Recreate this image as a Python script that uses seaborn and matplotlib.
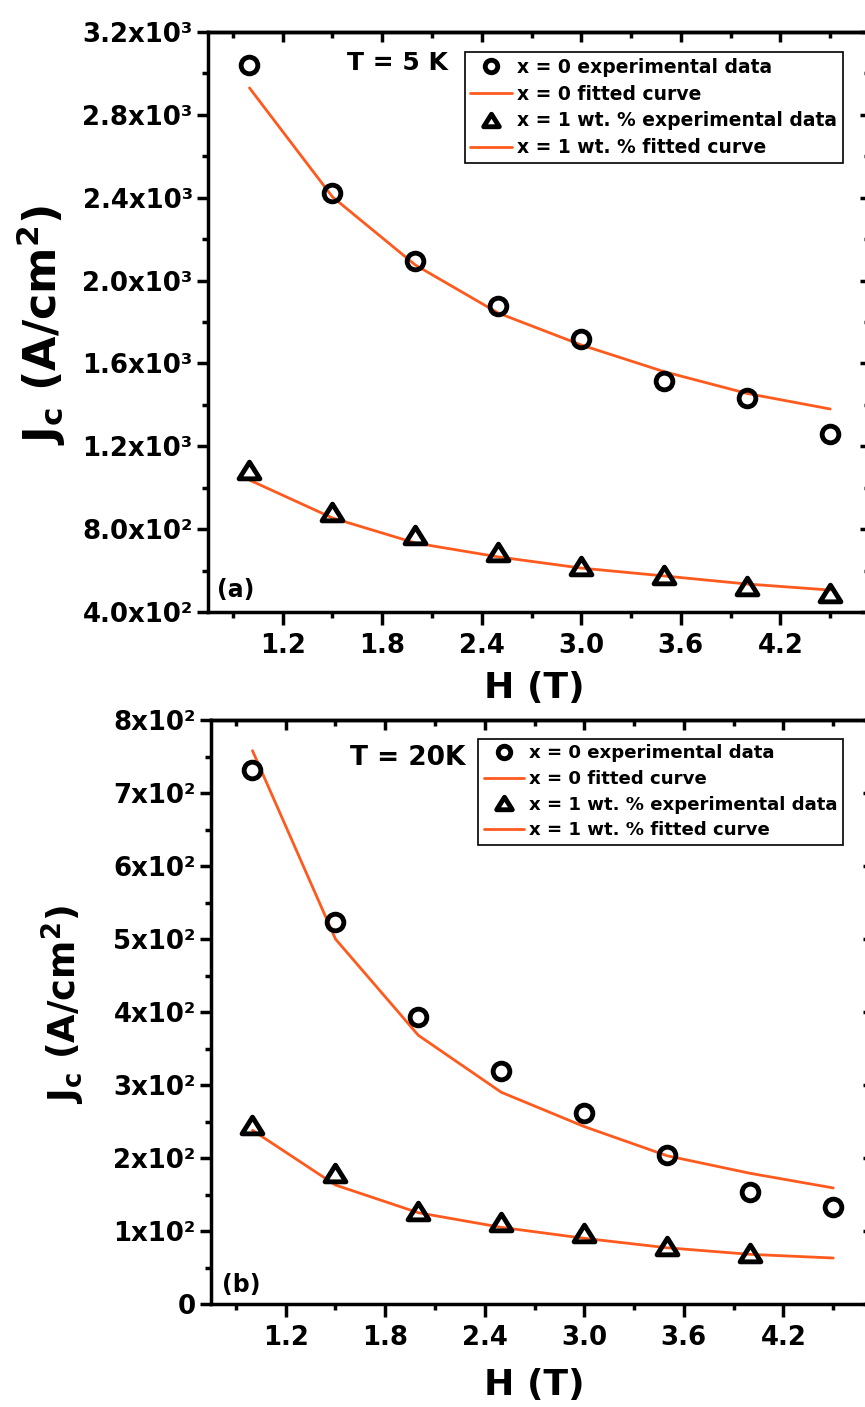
import matplotlib
matplotlib.use("Agg")
import matplotlib.pyplot as plt
import seaborn as sns
import pandas as pd
from matplotlib.path import Path
from matplotlib.ticker import MultipleLocator, FixedLocator

# ---------------- data ----------------
H = [1.0, 1.5, 2.0, 2.5, 3.0, 3.5, 4.0, 4.5]
H_b_x1_exp = [1.0, 1.5, 2.0, 2.5, 3.0, 3.5, 4.0]

a_x0_exp = [3040, 2423, 2094, 1877, 1718, 1515, 1433, 1259]
a_x0_fit = [2930, 2404, 2075, 1843, 1689, 1560, 1455, 1380]
a_x1_exp = [1086, 883, 772, 690, 622, 580, 525, 490]
a_x1_fit = [1037, 854, 733, 666, 612, 574, 535, 506]

b_x0_exp = [731, 523, 393, 319, 262, 204, 153, 133]
b_x0_fit = [758, 500, 368, 290, 243, 203, 179, 159]
b_x1_exp = [245, 179, 127, 112, 97, 79, 70]
b_x1_fit = [238, 163, 125, 105, 90, 77, 68, 63]

legend_labels = ["x = 0 experimental data", "x = 0 fitted curve",
                 "x = 1 wt. % experimental data", "x = 1 wt. % fitted curve"]

a_yticks = [400, 800, 1200, 1600, 2000, 2400, 2800, 3200]
a_yticklabels = ["4.0x10²", "8.0x10²", "1.2x10³", "1.6x10³",
                 "2.0x10³", "2.4x10³", "2.8x10³", "3.2x10³"]
b_yticks = [0, 100, 200, 300, 400, 500, 600, 700, 800]
b_yticklabels = ["0", "1x10²", "2x10²", "3x10²", "4x10²",
                 "5x10²", "6x10²", "7x10²", "8x10²"]
xticks = [1.2, 1.8, 2.4, 3.0, 3.6, 4.2]
xticklabels = ["1.2", "1.8", "2.4", "3.0", "3.6", "4.2"]

# ---------------- style ----------------
sns.set_style("ticks")
plt.rcParams["font.family"] = ["DejaVu Sans"]
plt.rcParams["font.weight"] = "bold"
plt.rcParams["mathtext.fontset"] = "dejavusans"
plt.rcParams["mathtext.default"] = "bf"
for k in ["text.color", "axes.labelcolor", "xtick.color", "ytick.color",
          "axes.edgecolor"]:
    plt.rcParams[k] = "black"

ORANGE = "#FF5A1E"
SPINE_LW = 2.5
TRI = Path([(0, 0.8), (-1, -0.8), (1, -0.8), (0, 0.8)],
           [Path.MOVETO, Path.LINETO, Path.LINETO, Path.CLOSEPOLY])

W, HH = 865, 1407
fig = plt.figure(figsize=(W / 100, HH / 100), dpi=100)
fig.patch.set_facecolor("white")


def px_axes(l, t, r, b):
    return fig.add_axes([l / W, 1 - b / HH, (r - l) / W, (b - t) / HH])


def draw_panel(ax, x0e_x, x0e, x0f, x1e_x, x1e, x1f):
    df0e = pd.DataFrame({"H": x0e_x, "J": x0e})
    df0f = pd.DataFrame({"H": H, "J": x0f})
    df1e = pd.DataFrame({"H": x1e_x, "J": x1e})
    df1f = pd.DataFrame({"H": H, "J": x1f})
    common = dict(x="H", y="J", ax=ax, estimator=None, sort=False, errorbar=None)
    sns.lineplot(data=df0e, **common, color="black", linestyle="none", marker="o",
                 markersize=12, markerfacecolor="none", markeredgecolor="black",
                 markeredgewidth=3.5, label=legend_labels[0], zorder=4)
    sns.lineplot(data=df0f, **common, color=ORANGE, linewidth=2.0,
                 label=legend_labels[1], zorder=3)
    sns.lineplot(data=df1e, **common, color="black", linestyle="none", marker=TRI,
                 markersize=15, markerfacecolor="none", markeredgecolor="black",
                 markeredgewidth=3.5, label=legend_labels[2], zorder=4)
    sns.lineplot(data=df1f, **common, color=ORANGE, linewidth=2.0,
                 label=legend_labels[3], zorder=3)


def style_axes(ax, yticks, yticklabels, yminor, ylim):
    ax.set_xlim(0.75, 4.74)
    ax.set_ylim(*ylim)
    ax.set_xticks(xticks, xticklabels, fontsize=18.7, fontweight="bold")
    ax.set_yticks(yticks, yticklabels, fontsize=18.7, fontweight="bold")
    ax.xaxis.set_minor_locator(MultipleLocator(0.3))
    ax.yaxis.set_minor_locator(MultipleLocator(yminor))
    ax.tick_params(axis="x", which="major", direction="out", length=9,
                   width=SPINE_LW, pad=6, top=False, colors="black")
    ax.tick_params(axis="x", which="minor", direction="out", length=4.5,
                   width=SPINE_LW, top=False, colors="black")
    ax.tick_params(axis="y", which="major", direction="out", length=8,
                   width=SPINE_LW, pad=3, right=False, colors="black")
    ax.tick_params(axis="y", which="minor", direction="out", length=4,
                   width=SPINE_LW, right=False, colors="black")
    for s in ax.spines.values():
        s.set_linewidth(SPINE_LW)
        s.set_color("black")
        s.set_visible(True)
    ax.set_facecolor("white")
    # inward ticks on top and right
    top = ax.secondary_xaxis("top")
    top.xaxis.set_major_locator(FixedLocator(xticks))
    top.xaxis.set_minor_locator(MultipleLocator(0.3))
    top.tick_params(which="both", direction="in", width=SPINE_LW, labeltop=False,
                    colors="black")
    top.tick_params(which="major", length=7)
    top.tick_params(which="minor", length=4)
    top.spines["top"].set_linewidth(SPINE_LW)
    right = ax.secondary_yaxis("right")
    right.yaxis.set_major_locator(FixedLocator(yticks))
    right.yaxis.set_minor_locator(MultipleLocator(yminor))
    right.tick_params(which="both", direction="in", width=SPINE_LW, labelright=False,
                      colors="black")
    right.tick_params(which="major", length=7)
    right.tick_params(which="minor", length=4)
    right.spines["right"].set_linewidth(SPINE_LW)


def add_legend(ax, right, top, fs):
    handles, labels = ax.get_legend_handles_labels()
    leg = ax.legend(handles, labels, loc="upper right", bbox_to_anchor=(right, top),
                    borderaxespad=0, frameon=True, fancybox=False, framealpha=1,
                    edgecolor="black", handlelength=2.2, markerscale=0.75,
                    handletextpad=0.3, labelspacing=0.42, borderpad=0.3,
                    prop={"weight": "bold", "size": fs})
    leg.get_frame().set_linewidth(1.2)
    for t in leg.get_texts():
        t.set_color("black")
    return leg


# ---------------- panel (a) ----------------
ax_a = px_axes(208, 32, 870, 612)
draw_panel(ax_a, H, a_x0_exp, a_x0_fit, H, a_x1_exp, a_x1_fit)
style_axes(ax_a, a_yticks, a_yticklabels, 200, (400, 3200))
add_legend(ax_a, 0.959, 0.9655, 13.5)
ax_a.text(0.3625, 0.947, "T = 5 K", transform=ax_a.transAxes, ha="right",
          va="center", fontsize=18, fontweight="bold", color="black")
ax_a.text(0.0423, 0.038, "(a)", transform=ax_a.transAxes, ha="center",
          va="center", fontsize=17, fontweight="bold", color="black")
ax_a.set_xlabel("H (T)", fontsize=26, fontweight="bold", va="center", color="black")
ax_a.xaxis.set_label_coords(0.493, -0.131)
ax_a.set_ylabel(r"$J_c\ (A/cm^2)$", fontsize=32, va="center", ha="center",
                rotation_mode="anchor", color="black")
ax_a.yaxis.set_label_coords(-0.252, 0.495)

# ---------------- panel (b) ----------------
ax_b = px_axes(211, 720, 873, 1304)
draw_panel(ax_b, H, b_x0_exp, b_x0_fit, H_b_x1_exp, b_x1_exp, b_x1_fit)
style_axes(ax_b, b_yticks, b_yticklabels, 50, (0, 800))
add_legend(ax_b, 0.955, 0.9675, 13.1)
ax_b.text(0.21, 0.935, "T = 20K", transform=ax_b.transAxes, ha="left",
          va="center", fontsize=19, fontweight="bold", color="black")
ax_b.text(0.045, 0.0325, "(b)", transform=ax_b.transAxes, ha="center",
          va="center", fontsize=17, fontweight="bold", color="black")
ax_b.set_xlabel("H (T)", fontsize=26, fontweight="bold", va="center", color="black")
ax_b.xaxis.set_label_coords(0.489, -0.139)
ax_b.set_ylabel(r"$J_c\ (A/cm^2)$", fontsize=26.5, va="center", ha="center",
                rotation_mode="anchor", color="black")
ax_b.yaxis.set_label_coords(-0.223, 0.512)

fig.savefig("out.png", dpi=100, facecolor="white")
